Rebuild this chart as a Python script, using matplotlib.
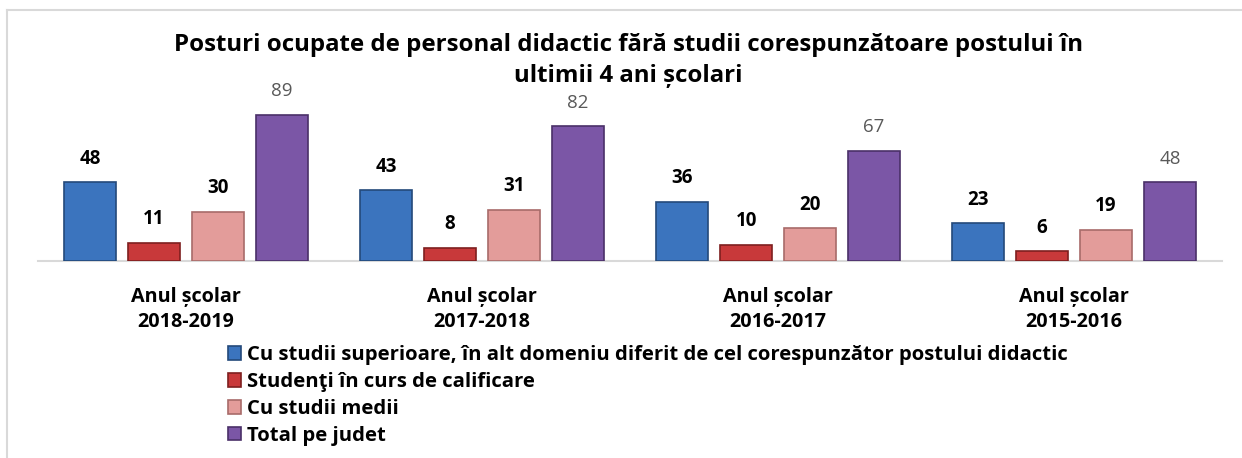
import matplotlib.pyplot as plt
import numpy as np
from matplotlib.lines import Line2D

plt.rcParams['font.family'] = ['Open Sans', 'DejaVu Sans']

years = ['Anul școlar\n2018-2019', 'Anul școlar\n2017-2018',
         'Anul școlar\n2016-2017', 'Anul școlar\n2015-2016']
series = ['Cu studii superioare, în alt domeniu diferit de cel corespunzător postului didactic',
          'Studenţi în curs de calificare',
          'Cu studii medii',
          'Total pe judet']
superioare = [48, 43, 36, 23]
studenti = [11, 8, 10, 6]
medii = [30, 31, 20, 19]
total = [89, 82, 67, 48]

colors = ['#3b74be', '#c8393a', '#e39c9a', '#7b56a6']
edges = ['#24497a', '#7e1f1f', '#a86b69', '#4a3068']

W, H = 1242, 458
fig = plt.figure(figsize=(W / 100, H / 100), dpi=100)

# chart frame (top and left borders visible)
fig.add_artist(Line2D([7 / W, 7 / W], [0, 1 - 10 / H], color='#d9d9d9', lw=1.5))
fig.add_artist(Line2D([7 / W, 1], [1 - 10 / H, 1 - 10 / H], color='#d9d9d9', lw=1.5))

ax = fig.add_axes([38 / W, 1 - 261 / H, (1222 - 38) / W, (261 - 100) / H])
ax.set_xlim(-0.5, 3.5)
ax.set_ylim(0, 98)

x = np.arange(len(years))
offsets = [-0.324, -0.108, 0.108, 0.324]
bw = 0.176
data = [superioare, studenti, medii, total]

for i, vals in enumerate(data):
    bars = ax.bar(x + offsets[i], vals, bw, color=colors[i], edgecolor=edges[i],
                  linewidth=1.2, label=series[i], zorder=3)
    for b, v in zip(bars, vals):
        if i == 3:
            ax.annotate(str(v), (b.get_x() + b.get_width() / 2, v), xytext=(0, 17),
                        textcoords='offset points', ha='center', va='center',
                        fontsize=13.5, color='#595959')
        else:
            ax.annotate(str(v), (b.get_x() + b.get_width() / 2, v), xytext=(0, 17),
                        textcoords='offset points', ha='center', va='center',
                        fontsize=13.5, fontweight='bold', color='black')

for s in ['top', 'right', 'left']:
    ax.spines[s].set_visible(False)
ax.spines['bottom'].set_color('#d9d9d9')
ax.spines['bottom'].set_linewidth(1.5)
ax.set_yticks([])
ax.set_xticks(x)
ax.set_xticklabels(years, fontsize=14.2, fontweight='bold', linespacing=1.3)
ax.tick_params(axis='x', length=0, pad=19)

fig.text(628 / W, 1 - 45 / H,
         'Posturi ocupate de personal didactic fără studii corespunzătoare postului în',
         ha='center', va='center', fontsize=17.3, fontweight='bold')
fig.text(628 / W, 1 - 76 / H, 'ultimii 4 ani școlari',
         ha='center', va='center', fontsize=17.3, fontweight='bold')

leg = fig.legend(loc='upper left', bbox_to_anchor=(228 / W, 1 - 345 / H), frameon=False,
                 prop={'size': 14.6, 'weight': 'bold'}, handlelength=0.66, handleheight=0.66,
                 handletextpad=0.3, labelspacing=0.34, borderpad=0, borderaxespad=0)

fig.savefig('out.png', dpi=100)
